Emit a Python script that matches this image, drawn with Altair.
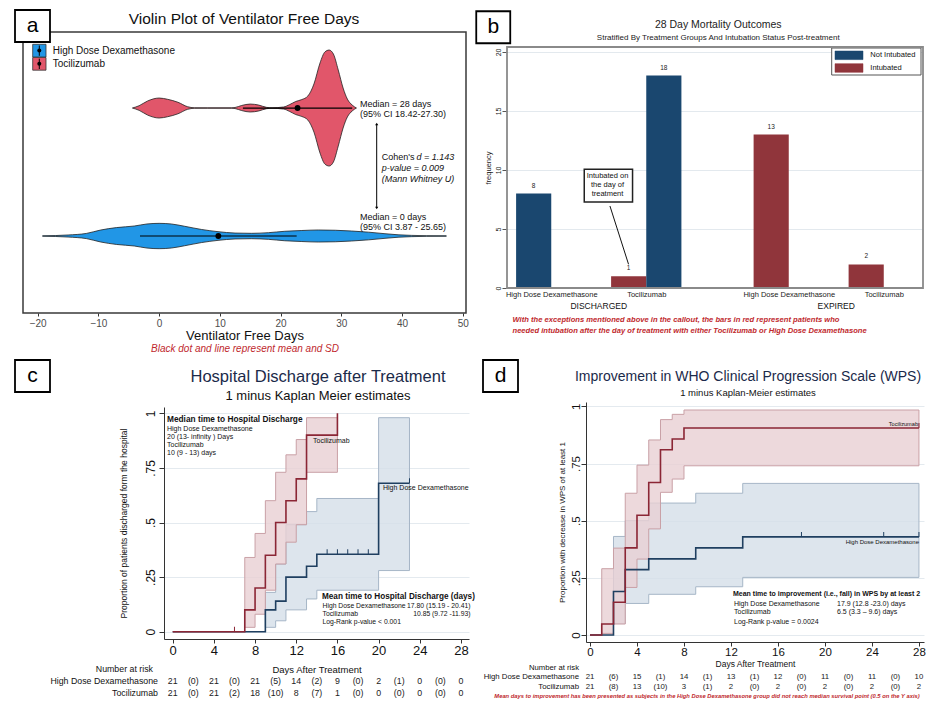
import altair as alt
import pandas as pd

FONT = "Liberation Sans"
RED_NOTE = "#c0282d"
TITLE_NAVY = "#1b2a4a"
ONE = [{"k": 1}]

# ---------------------------------------------------------------- data: panel a
vfd_groups = ["High Dose Dexamethasone", "Tocilizumab"]
vfd_colors = ["#2196E6", "#E1566A"]
dex_vfd_x = [-19.2, -15, -12, -9.6, -7, -4.1, -2, 0, 2, 4.2, 7, 9.7, 12.5, 15.2, 18, 20.7,
             23.5, 26.2, 29, 31.7, 34.5, 37.2, 39.5, 41.6, 44, 47.3]
dex_vfd_density = [0.0015, 0.008, 0.020, 0.047, 0.066, 0.078, 0.094, 0.099, 0.094, 0.076, 0.051,
                   0.034, 0.023, 0.021, 0.026, 0.037, 0.043, 0.047, 0.045, 0.039, 0.030, 0.018,
                   0.009, 0.005, 0.0025, 0.0015]
toci_vfd_x = [-4.4, -3.3, -1.9, 0, 1.4, 3.1, 4.7, 5.8, 8, 11.9, 12.5, 13.6, 15, 16.4, 17.7, 18.6,
              20.5, 21.5, 22.5, 23.5, 24.5, 25.5, 26.5, 27.3, 28, 28.7, 29.5, 30.3, 31, 31.8, 32.5]
toci_vfd_density = [0, 0.018, 0.055, 0.078, 0.068, 0.045, 0.010, 0.002, 0.0015, 0.0015, 0.004,
                    0.020, 0.031, 0.023, 0.005, 0.002, 0.008, 0.027, 0.051, 0.066, 0.094, 0.188,
                    0.352, 0.438, 0.453, 0.422, 0.297, 0.156, 0.070, 0.023, 0]
vfd_mean = [9.75, 22.8]
vfd_sd = [12.9, 9.0]
vfd_ticks = [-20, -10, 0, 10, 20, 30, 40, 50]

# ---------------------------------------------------------------- data: panel b
mort_outcome = ["DISCHARGED", "DISCHARGED", "DISCHARGED", "EXPIRED", "EXPIRED"]
mort_treatment = ["High Dose Dexamethasone", "Tocilizumab", "Tocilizumab",
                  "High Dose Dexamethasone", "Tocilizumab"]
mort_status = ["Not Intubated", "Intubated", "Not Intubated", "Intubated", "Intubated"]
mort_freq = [8, 1, 18, 13, 2]
status_levels = ["Not Intubated", "Intubated"]
status_colors = ["#1a476f", "#90353b"]
slot_order = ["Intubated", "Not Intubated"]
treat_levels = ["High Dose Dexamethasone", "Tocilizumab"]
freq_ticks = [0, 5, 10, 15, 20]

# ---------------------------------------------------------------- data: panel c
c_toci_t = [0, 7, 8, 9, 10, 11, 12, 13, 16]
c_toci_s = [0, 0.10, 0.20, 0.35, 0.50, 0.60, 0.70, 0.90, 1.00]
c_toci_ci_t = [7, 8, 9, 10, 11, 12, 13, 16]
c_toci_lo = [0.02, 0.08, 0.19, 0.31, 0.41, 0.49, 0.73, 0.73]
c_toci_hi = [0.34, 0.45, 0.60, 0.73, 0.81, 0.88, 0.98, 0.98]
c_dex_t = [0, 9, 10, 11, 13, 14, 20, 23]
c_dex_s = [0, 0.10, 0.14, 0.25, 0.30, 0.355, 0.68, 0.68]
c_dex_ci_t = [9, 10, 11, 13, 14, 20, 23]
c_dex_lo = [0.02, 0.05, 0.10, 0.15, 0.19, 0.28, 0.28]
c_dex_hi = [0.18, 0.31, 0.49, 0.55, 0.61, 0.98, 0.98]
c_toci_cens_t = [6]
c_toci_cens_s = [0]
c_dex_cens_t = [15, 16, 17, 18, 19, 23]
c_dex_cens_s = [0.355, 0.355, 0.355, 0.355, 0.355, 0.68]
c_risk_days = [0, 4, 8, 12, 16, 20, 24, 28]
c_dex_at_risk = [21, 21, 21, 14, 9, 2, 0, 0]
c_toci_at_risk = [21, 21, 18, 8, 1, 0, 0, 0]
c_gap_days = [2, 6, 10, 14, 18, 22, 26]
c_dex_gap = [0, 0, 5, 2, 0, 1, 0]
c_toci_gap = [0, 2, 10, 7, 0, 0, 0]

# ---------------------------------------------------------------- data: panel d
d_toci_t = [0, 1, 2, 3, 4, 5, 6, 7, 8, 28]
d_toci_s = [0, 0.048, 0.143, 0.381, 0.524, 0.667, 0.810, 0.857, 0.905, 0.905]
d_toci_ci_t = [1, 2, 3, 4, 5, 6, 7, 8, 28]
d_toci_lo = [0.007, 0.048, 0.208, 0.332, 0.464, 0.624, 0.682, 0.740, 0.740]
d_toci_hi = [0.290, 0.380, 0.620, 0.743, 0.853, 0.942, 0.965, 0.984, 0.984]
d_dex_t = [0, 2, 3, 5, 9, 13, 28]
d_dex_s = [0, 0.190, 0.286, 0.333, 0.381, 0.429, 0.429]
d_dex_ci_t = [2, 3, 5, 9, 13, 28]
d_dex_lo = [0.050, 0.138, 0.178, 0.211, 0.252, 0.252]
d_dex_hi = [0.431, 0.500, 0.577, 0.620, 0.663, 0.663]
d_toci_cens_t = [28]
d_toci_cens_s = [0.905]
d_dex_cens_t = [18, 25, 28]
d_dex_cens_s = [0.429, 0.429, 0.429]
d_risk_days = [0, 4, 8, 12, 16, 20, 24, 28]
d_dex_at_risk = [21, 15, 14, 13, 12, 11, 11, 10]
d_toci_at_risk = [21, 13, 3, 2, 2, 2, 2, 2]
d_gap_days = [2, 6, 10, 14, 18, 22, 26]
d_dex_gap = [6, 1, 1, 1, 0, 0, 0]
d_toci_gap = [8, 10, 1, 0, 0, 0, 0]

km_ticks = [0, 4, 8, 12, 16, 20, 24, 28]
prop_ticks = [0, 0.25, 0.5, 0.75, 1]

TOCI_LINE, DEX_LINE = "#8b2635", "#1f3f60"
TOCI_BAND, DEX_BAND = "#e9d0d3", "#d5dee8"
TOCI_EDGE, DEX_EDGE = "#c9a0a6", "#a6b6c7"


# ---------------------------------------------------------------- helpers
def txt(s, x, y, size=9, align="left", color="#111111", weight="normal", style="normal"):
    return alt.Chart(alt.Data(values=ONE)).mark_text(
        text=s, align=align, baseline="middle", fontSize=size, color=color,
        fontWeight=weight, fontStyle=style, font=FONT,
    ).encode(x=alt.value(x), y=alt.value(y))


def box(x1, y1, x2, y2, fill="white", stroke="black", sw=1.5, fill_opacity=1.0):
    return alt.Chart(alt.Data(values=ONE)).mark_rect(
        fill=fill, fillOpacity=fill_opacity, stroke=stroke, strokeWidth=sw,
    ).encode(x=alt.value(x1), x2=alt.value(x2), y=alt.value(y1), y2=alt.value(y2))


def seg(x1, y1, x2, y2, color="black", sw=1.0):
    return alt.Chart(alt.Data(values=ONE)).mark_rule(color=color, strokeWidth=sw).encode(
        x=alt.value(x1), x2=alt.value(x2), y=alt.value(y1), y2=alt.value(y2))


def dot(x, y, size=14, shape="circle", color="black"):
    return alt.Chart(alt.Data(values=ONE)).mark_point(
        shape=shape, filled=True, size=size, color=color, opacity=1,
    ).encode(x=alt.value(x), y=alt.value(y))


def tag(letter, x1, y1, x2, y2):
    return [box(x1, y1, x2, y2, sw=1.8),
            txt(letter, (x1 + x2) / 2, (y1 + y2) / 2, size=21, align="center", color="black")]


PROP_LABEL = ("datum.value == 0 ? '0' : datum.value == 1 ? '1' : "
              "replace(format(datum.value, '.2~f'), '0.', '.')")

# ================================================================= panel a
XA = alt.Scale(domain=[-22.42, 50.54], nice=False, zero=False)
YA = alt.Scale(domain=[0.3985, 2.594], nice=False, zero=False)

v_rows = []
for gi, (xs, ds) in enumerate([(dex_vfd_x, dex_vfd_density), (toci_vfd_x, toci_vfd_density)]):
    for v, d in zip(xs, ds):
        v_rows.append({"grp": vfd_groups[gi], "v": v, "hi": gi + 1 + d, "lo": gi + 1 - d})
df_v = pd.DataFrame(v_rows)
df_sd = pd.DataFrame({"grp": vfd_groups, "mean": vfd_mean,
                      "lo": [m - s for m, s in zip(vfd_mean, vfd_sd)],
                      "hi": [m + s for m, s in zip(vfd_mean, vfd_sd)],
                      "c": [1, 2]})

violin = alt.Chart(df_v).mark_area(interpolate="monotone", stroke="#222222", strokeWidth=0.8).encode(
    x=alt.X("v:Q", scale=XA, axis=alt.Axis(
        values=vfd_ticks, grid=False, domain=False, tickSize=3, tickColor="#333333",
        labelFontSize=10, labelColor="#4d4d4d", labelPadding=2, labelFont=FONT,
        title="Ventilator Free Days", titleFont=FONT, titleFontSize=13, titleFontWeight="normal",
        titleColor="#111111", titlePadding=1)),
    y=alt.Y("hi:Q", scale=YA, axis=None),
    y2="lo:Q",
    fill=alt.Fill("grp:N", scale=alt.Scale(domain=vfd_groups, range=vfd_colors), legend=None),
    detail="grp:N",
)
sd_rule = alt.Chart(df_sd).mark_rule(color="black", strokeWidth=1.2).encode(
    x=alt.X("lo:Q", scale=XA), x2="hi:Q", y=alt.Y("c:Q", scale=YA))
mean_pt = alt.Chart(df_sd).mark_circle(size=34, color="black", opacity=1).encode(
    x=alt.X("mean:Q", scale=XA), y=alt.Y("c:Q", scale=YA))

a_layers = [violin, sd_rule, mean_pt]
for i, (g, col) in enumerate(zip(vfd_groups, vfd_colors)):
    y0 = 12.3 + i * 13.2
    a_layers += [box(9.7, y0, 23, y0 + 12.7, fill=col, stroke="#333333", sw=0.8),
                 seg(16.3, y0 + 1.2, 16.3, y0 + 11.5, sw=1),
                 dot(16.3, y0 + 6.3, size=16),
                 txt(g, 29.7, y0 + 6.2, size=10)]
a_layers += [
    txt("Median = 28 days", 337, 71.7, 9),
    txt("(95% CI 18.42-27.30)", 337, 82.3, 9),
    seg(353.7, 92, 353.7, 176, sw=1),
    dot(353.7, 92, size=10, shape="triangle-up"),
    dot(353.7, 176, size=10, shape="triangle-down"),
    txt("Cohen's ", 358.7, 125, 9),
    txt("d = 1.143", 393.5, 125, 9, style="italic"),
    txt("p-value = 0.009", 358.7, 136, 9, style="italic"),
    txt("(Mann Whitney U)", 358.7, 147, 9, style="italic"),
    txt("Median = 0 days", 337, 185, 9),
    txt("(95% CI 3.87 - 25.65)", 337, 195, 9),
    txt("Black dot and line represent mean and SD", 222, 317, 10, align="center",
        color=RED_NOTE, style="italic"),
    txt("Violin Plot of Ventilator Free Days", 221, -13, 15.5, align="center"),
    box(0, 0, 443, 281, fill="white", fill_opacity=0, stroke="#3a3a3a", sw=1.5),
]
a_layers += tag("a", -8, -22, 27, 10)
panel_a = alt.layer(*a_layers).properties(width=443, height=281)

# ================================================================= panel b
# the panel's group starts at the top of panel a; its plot frame spans y = 15 .. 256
B_TOP, B_H = 15, 256
df_b = pd.DataFrame({"outcome": mort_outcome, "treatment": mort_treatment,
                     "status": mort_status, "freq": mort_freq})
outcome_levels = list(dict.fromkeys(mort_outcome))
df_b["pos"] = (df_b["outcome"].map({o: i for i, o in enumerate(outcome_levels)}) * (len(treat_levels) + 0.5)
               + df_b["treatment"].map({t: i for i, t in enumerate(treat_levels)}))
df_b["ord"] = df_b["status"].map({s: i for i, s in enumerate(slot_order)})
df_b = df_b.sort_values(["pos", "ord"]).reset_index(drop=True)
df_b["slot"] = df_b.groupby("pos").cumcount()
BAR_W = 0.37
df_b["x0"] = df_b["pos"] + (df_b["slot"] - 1) * BAR_W
df_b["x1"] = df_b["x0"] + BAR_W
df_b["xm"] = (df_b["x0"] + df_b["x1"]) / 2
df_b["base"] = 0
df_out = df_b.groupby("outcome", as_index=False)["pos"].agg(lambda s: (s.min() + s.max()) / 2)

pairs = sorted(set(zip(df_b["pos"], df_b["treatment"])))
label_expr = "".join(f"abs(datum.value - {p}) < 0.01 ? '{n}' : " for p, n in pairs) + "''"

XB = alt.Scale(domain=[-0.4658, 3.913], nice=False, zero=False)
YB = alt.Scale(domain=[0, 20.42], nice=False, zero=True, range=[B_H, B_TOP])

bars = alt.Chart(df_b).mark_rect().encode(
    x=alt.X("x0:Q", scale=XB, axis=alt.Axis(
        values=[p for p, _ in pairs], labelExpr=label_expr, ticks=False, domain=False, grid=False,
        labelFontSize=7.5, labelPadding=2, labelColor="#222222", labelOverlap=False,
        labelFlush=False, title=None)),
    x2="x1:Q",
    y=alt.Y("freq:Q", scale=YB, axis=alt.Axis(
        values=freq_ticks, grid=True, gridColor="#e3e9ee", domain=False, tickSize=5,
        tickColor="#555555", labelAngle=270, labelAlign="center", labelBaseline="bottom",
        labelFontSize=7, labelPadding=1, labelColor="#222222", title="frequency",
        titleFontSize=7.5, titleFontWeight="normal", titlePadding=2, titleColor="#222222")),
    y2="base:Q",
    color=alt.Color("status:N", scale=alt.Scale(domain=status_levels, range=status_colors), legend=None),
)
bar_lbl = alt.Chart(df_b).mark_text(dy=-8, fontSize=6.5, color="#222222", font=FONT).encode(
    x=alt.X("xm:Q", scale=XB), y=alt.Y("freq:Q", scale=YB), text="freq:Q")
out_lbl = alt.Chart(df_out).mark_text(fontSize=8.5, color="#111111", font=FONT).encode(
    x=alt.X("pos:Q", scale=XB), y=alt.value(B_TOP + 259), text="outcome:N")

b_layers = [bars, bar_lbl, out_lbl,
            box(324.7, B_TOP + 1, 414, B_TOP + 28, fill="white", stroke="#555555", sw=1)]
for i, (s, col) in enumerate(zip(status_levels, status_colors)):
    y0 = B_TOP + 4 + i * 12.7
    b_layers += [box(328, y0, 356, y0 + 8.6, fill=col, stroke=col, sw=0.5),
                 txt(s, 363.3, y0 + 4.3, 7.5)]
b_layers += [
    box(77.25, B_TOP + 122.3, 125.55, B_TOP + 155, fill="white", stroke="#222222", sw=1.5),
    txt("Intubated on", 100.5, B_TOP + 129, 7.5, align="center"),
    txt("the day of", 100.5, B_TOP + 138, 7.5, align="center"),
    txt("treatment", 100.5, B_TOP + 146.7, 7.5, align="center"),
    seg(102.95, B_TOP + 159, 121.55, B_TOP + 217.3, color="#111111", sw=1),
    txt("With the exceptions mentioned above in the callout, the bars in red represent patients who",
        5.5, B_TOP + 273, 7.6, color=RED_NOTE, weight="bold", style="italic"),
    txt("needed intubation after the day of treatment with either Tocilizumab or High Dose Dexamethasone",
        5.5, B_TOP + 284, 7.6, color=RED_NOTE, weight="bold", style="italic"),
    txt("28 Day Mortality Outcomes", 211.25, -6.75, 10.5, align="center", color="#222222"),
    txt("Stratified By Treatment Groups And Intubation Status Post-treatment", 211.25, 6.25, 8,
        align="center", color="#222222"),
    box(0, B_TOP, 416, B_H, fill="white", fill_opacity=0, stroke="#8a8a8a", sw=1.8),
]
b_layers += tag("b", -30.75, -20.75, 3.25, 11.25)
panel_b = alt.layer(*b_layers).properties(width=416, height=B_H)


# ================================================================= KM helpers
def km_frames(t, s, ci_t, lo, hi, ct, cs):
    return (pd.DataFrame({"t": t, "s": s}), pd.DataFrame({"t": ci_t, "lo": lo, "hi": hi}),
            pd.DataFrame({"t": ct, "s": cs}))


def risk_table(days, at_risk, gap_days, gap):
    rows = [{"t": d, "lab": str(n)} for d, n in zip(days, at_risk)]
    rows += [{"t": d, "lab": f"({n})"} for d, n in zip(gap_days, gap)]
    return pd.DataFrame(rows)


def km_layers(XS, YS, series, x_axis, y_axis, tables, table_size):
    layers = []
    first = True
    for line_df, band_df, cens_df, fill, edge, lcol in series:
        if first:
            enc_x = alt.X("t:Q", scale=XS, axis=x_axis)
            enc_y = alt.Y("lo:Q", scale=YS, axis=y_axis)
        else:
            enc_x = alt.X("t:Q", scale=XS)
            enc_y = alt.Y("lo:Q", scale=YS)
        layers.append(alt.Chart(band_df).mark_area(
            interpolate="step-after", fill=fill, fillOpacity=0.8, stroke=edge, strokeWidth=1
        ).encode(x=enc_x, y=enc_y, y2="hi:Q"))
        first = False
    for line_df, band_df, cens_df, fill, edge, lcol in series:
        layers.append(alt.Chart(line_df).mark_line(
            interpolate="step-after", color=lcol, strokeWidth=1.6
        ).encode(x=alt.X("t:Q", scale=XS), y=alt.Y("s:Q", scale=YS)))
        layers.append(alt.Chart(cens_df).mark_tick(
            orient="vertical", size=5, thickness=1, yOffset=-2.5, color=lcol, opacity=1
        ).encode(x=alt.X("t:Q", scale=XS), y=alt.Y("s:Q", scale=YS)))
    for tdf, ypix in tables:
        layers.append(alt.Chart(tdf).mark_text(fontSize=table_size, color="#222222", font=FONT).encode(
            x=alt.X("t:Q", scale=XS), y=alt.value(ypix), text="lab:N"))
    return layers


# ================================================================= panel c
# the panel's group is aligned with panel a; its plot spans x = 141 .. 446, y = 5 .. 237
C_L, C_R, C_T, C_B = 141, 446, 5, 237
XC = alt.Scale(domain=[-0.845, 28.78], nice=False, zero=False, range=[C_L, C_R])
YC = alt.Scale(domain=[-0.0334, 1.029], nice=False, zero=False, range=[C_B, C_T])
c_dex = km_frames(c_dex_t, c_dex_s, c_dex_ci_t, c_dex_lo, c_dex_hi, c_dex_cens_t, c_dex_cens_s)
c_toci = km_frames(c_toci_t, c_toci_s, c_toci_ci_t, c_toci_lo, c_toci_hi, c_toci_cens_t, c_toci_cens_s)
c_x_axis = alt.Axis(values=km_ticks, grid=False, domainColor="#333333", tickColor="#333333",
                    tickSize=4, labelFontSize=13, labelPadding=1, labelColor="#111111",
                    title="Days After Treatment", titleFontSize=9.5, titleFontWeight="normal",
                    titleColor="#111111", titlePadding=7.5)
c_y_axis = alt.Axis(values=prop_ticks, labelExpr=PROP_LABEL, grid=True, gridColor="#e4eaef",
                    domainColor="#333333", tickColor="#333333", tickSize=5, labelAngle=270,
                    labelAlign="center", labelBaseline="bottom", labelFontSize=12, labelPadding=2,
                    labelColor="#111111", offset=-C_L,
                    title="Proportion of patients discharged form the hospital", titleFontSize=8.5,
                    titleFontWeight="normal", titleColor="#111111", titlePadding=15.5)
c_layers = km_layers(
    XC, YC,
    [(*c_dex, DEX_BAND, DEX_EDGE, DEX_LINE), (*c_toci, TOCI_BAND, TOCI_EDGE, TOCI_LINE)],
    c_x_axis, c_y_axis,
    [(risk_table(c_risk_days, c_dex_at_risk, c_gap_days, c_dex_gap), 279),
     (risk_table(c_risk_days, c_toci_at_risk, c_gap_days, c_toci_gap), 291)],
    8.8,
)
c_layers += [
    txt("Tocilizumab", 290, 39, 7),
    txt("High Dose Dexamethasone", 360, 86, 7),
    txt("Median time to Hospital Discharge", 144, 18, 8.3, weight="bold"),
    txt("High Dose Dexamethasone", 144, 27, 7),
    txt("20 (13-  infinity ) Days", 144, 34.7, 7),
    txt("Tocilizumab", 144, 43, 7),
    txt("10 (9 - 13) days", 144, 51, 7),
    txt("Mean time to Hospital Discharge (days)", 299, 194.5, 8.2, weight="bold"),
    txt("High Dose Dexamethasone", 299.5, 204, 6.8),
    txt("17.80 (15.19 - 20.41)", 447.5, 204, 6.8, align="right"),
    txt("Tocilizumab", 299.5, 212, 6.8),
    txt("10.85 (9.72 -11.93)", 447.5, 212, 6.8, align="right"),
    txt("Log-Rank p-value < 0.001", 299.5, 220, 6.8),
    txt("Number at risk", 130, 267, 8.8, align="right"),
    txt("High Dose Dexamethasone", 135, 279, 8.8, align="right"),
    txt("Tocilizumab", 135, 291, 8.8, align="right"),
    txt("Hospital Discharge after Treatment", 295, -25, 16.5, align="center", color=TITLE_NAVY),
    txt("1 minus Kaplan Meier estimates", 295, -6, 13, align="center"),
]
c_layers += tag("c", -8, -42, 27, -10)
panel_c = alt.layer(*c_layers).properties(width=C_R, height=C_B)

# ================================================================= panel d
XD = alt.Scale(domain=[-0.34, 28.43], nice=False, zero=False)
YD = alt.Scale(domain=[-0.0306, 1.019], nice=False, zero=False)
d_dex = km_frames(d_dex_t, d_dex_s, d_dex_ci_t, d_dex_lo, d_dex_hi, d_dex_cens_t, d_dex_cens_s)
d_toci = km_frames(d_toci_t, d_toci_s, d_toci_ci_t, d_toci_lo, d_toci_hi, d_toci_cens_t, d_toci_cens_s)
d_x_axis = alt.Axis(values=km_ticks, grid=False, domainColor="#333333", tickColor="#333333",
                    tickSize=4, labelFontSize=11.5, labelPadding=0, labelColor="#111111",
                    title="Days After Treatment", titleFontSize=8.5, titleFontWeight="normal",
                    titleColor="#111111", titlePadding=2.2)
d_y_axis = alt.Axis(values=prop_ticks, labelExpr=PROP_LABEL, grid=True, gridColor="#e4eaef",
                    domainColor="#333333", tickColor="#333333", tickSize=5, labelAngle=270,
                    labelAlign="center", labelBaseline="bottom", labelFontSize=11.5, labelPadding=0,
                    labelColor="#111111",
                    title="Proportion with decrease in WPS of at least 1", titleFontSize=8,
                    titleFontWeight="normal", titleColor="#111111", titlePadding=3.5)
d_layers = km_layers(
    XD, YD,
    [(*d_dex, DEX_BAND, DEX_EDGE, DEX_LINE), (*d_toci, TOCI_BAND, TOCI_EDGE, TOCI_LINE)],
    d_x_axis, d_y_axis,
    [(risk_table(d_risk_days, d_dex_at_risk, d_gap_days, d_dex_gap), 275),
     (risk_table(d_risk_days, d_toci_at_risk, d_gap_days, d_toci_gap), 285)],
    7.8,
)
d_layers += [
    txt("Tocilizumab", 332, 22, 5.6, align="right"),
    txt("High Dose Dexamethasone", 333, 140, 6, align="right"),
    txt("Mean time to improvement (i.e., fall) in WPS by at least 2", 147, 192.3, 7, weight="bold"),
    txt("High Dose Dexamethasone", 148, 202, 7),
    txt("17.9 (12.8 -23.0) days", 251, 202, 7),
    txt("Tocilizumab", 148, 210.3, 7),
    txt("6.5 (3.3 \u2013 9.6) days", 251, 210.3, 7),
    txt("Log-Rank p-value = 0.0024", 148, 219.7, 7),
    txt("Number at risk", -7, 265.5, 7.7, align="right"),
    txt("High Dose Dexamethasone", -7, 275, 7.8, align="right"),
    txt("Tocilizumab", -7, 285, 7.8, align="right"),
    txt("Mean days to improvement has been presented as subjects in the High Dose Dexamethasone "
        "group did not reach median survival point (0.5 on the Y axis)",
        121, 294, 5.8, align="center", color=RED_NOTE, weight="bold", style="italic"),
    txt("Improvement in WHO Clinical Progression Scale (WPS)", 162, -25, 14, align="center",
        color=TITLE_NAVY),
    txt("1 minus Kaplan-Meier estimates", 162, -9.5, 9.5, align="center"),
]
d_layers += tag("d", -103, -42, -68, -10)
panel_d = alt.layer(*d_layers).properties(width=338, height=240)

# ================================================================= assemble
row1 = alt.hconcat(panel_a, panel_b, spacing=6)
row2 = alt.hconcat(panel_c, panel_d, spacing=7)
chart = (
    alt.vconcat(row1, row2, spacing=5)
    .properties(padding={"left": 6, "top": 1, "right": 0, "bottom": 0}, background="white")
    .configure(font=FONT)
    .configure_view(stroke=None)
)
chart.save("out.html", embed_options={"renderer": "svg", "actions": False})
